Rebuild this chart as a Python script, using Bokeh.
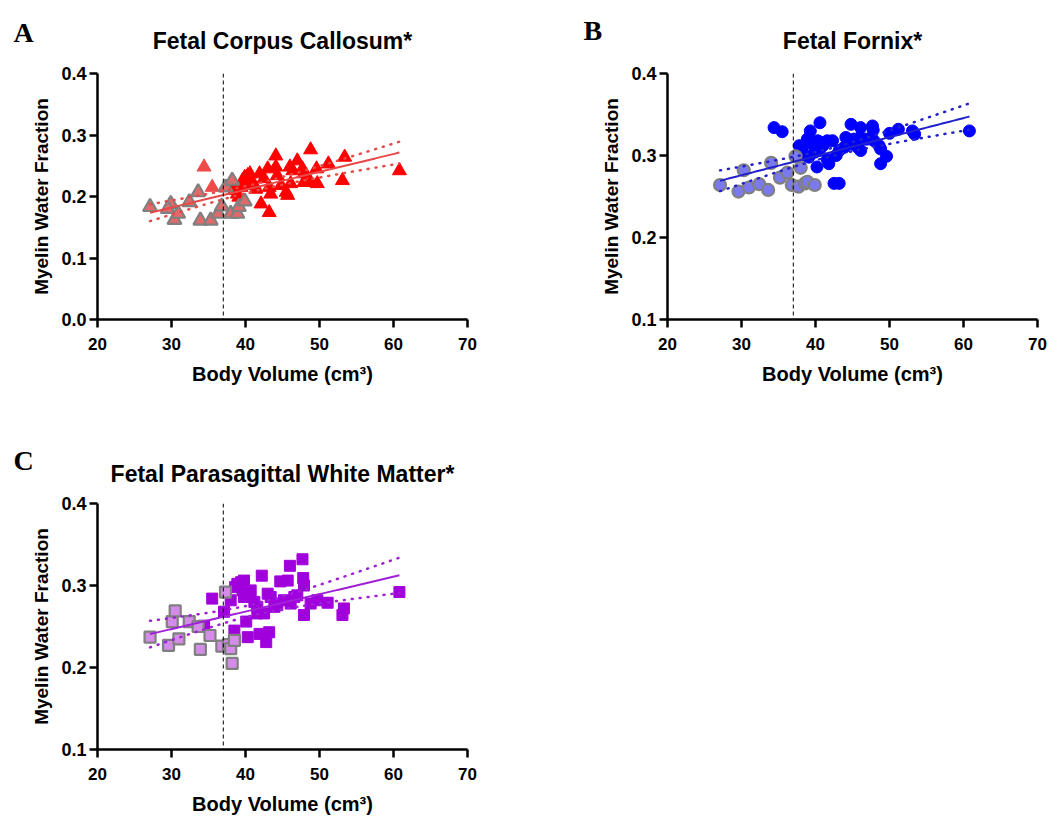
import numpy as np
from bokeh.plotting import figure
from bokeh.layouts import column, row
from bokeh.models import Range1d, FixedTicker, NumeralTickFormatter, Span, Label
from bokeh.embed import file_html
from bokeh.resources import INLINE

# ---- Fetal corpus callosum ----
cc_gray_x = [27.1, 29.9, 29.5, 30.4, 30.9, 32.4, 33.6, 33.9, 35.3, 36.3, 36.8, 37.3, 38.2, 38.0, 38.9, 39.1, 39.9]
cc_gray_y = [0.183, 0.188, 0.180, 0.162, 0.172, 0.191, 0.207, 0.161, 0.161, 0.172, 0.184, 0.215, 0.226, 0.172, 0.172, 0.183, 0.192]
cc_pale_x = [34.4, 35.5]
cc_pale_y = [0.248, 0.215]
cc_x = [37.9, 38.5, 38.9, 39.1, 39.4, 39.6, 39.9, 40.3, 40.6, 40.1, 40.7, 41.2, 41.4, 41.9, 42.1,
        42.5, 43.0, 43.2, 43.4, 43.2, 44.1, 44.1, 44.3, 44.8, 45.5, 45.7, 46.1, 46.0, 46.4, 47.0,
        47.7, 47.9, 47.9, 48.8, 48.8, 49.6, 49.7, 51.2, 53.1, 53.4, 60.8]
cc_y = [0.215, 0.210, 0.204, 0.199, 0.215, 0.226, 0.231, 0.234, 0.237, 0.218, 0.223, 0.218, 0.212, 0.237, 0.188,
        0.229, 0.245, 0.215, 0.204, 0.174, 0.266, 0.248, 0.234, 0.218, 0.207, 0.202, 0.221, 0.248, 0.242, 0.258,
        0.245, 0.237, 0.223, 0.276, 0.223, 0.245, 0.221, 0.253, 0.226, 0.264, 0.242]

# ---- Fetal fornix ----
fx_gray_x = [27.1, 29.6, 30.3, 31.0, 32.4, 33.6, 34.0, 35.2, 36.2, 36.8, 37.3, 38.0, 37.7, 38.6, 38.9, 39.9]
fx_gray_y = [0.264, 0.256, 0.282, 0.261, 0.265, 0.258, 0.291, 0.273, 0.279, 0.264, 0.299, 0.285, 0.262, 0.266, 0.268, 0.264]
fx_x = [34.4, 35.5, 40.6, 39.3, 38.9, 38.6, 37.8, 39.4, 39.8, 40.3, 39.9, 40.5, 41.0, 41.2, 41.6, 42.3,
        38.7, 39.1, 40.2, 41.8, 41.6, 42.8, 43.2, 43.9, 44.1, 44.8, 45.0, 45.2, 45.7, 46.1, 46.0, 46.1,
        46.6, 47.0, 47.7, 47.8, 47.9, 48.6, 48.8, 49.6, 48.8, 42.5, 43.2, 50.0, 51.2, 53.1, 53.4, 60.8]
fx_y = [0.334, 0.329, 0.340, 0.330, 0.320, 0.314, 0.312, 0.318, 0.312, 0.318, 0.304, 0.306, 0.312, 0.316, 0.318, 0.318,
        0.300, 0.298, 0.286, 0.290, 0.295, 0.300, 0.306, 0.310, 0.322, 0.338, 0.314, 0.320, 0.310, 0.306, 0.322, 0.334,
        0.320, 0.320, 0.336, 0.331, 0.318, 0.312, 0.308, 0.299, 0.290, 0.266, 0.266, 0.327, 0.332, 0.330, 0.326, 0.330]

# ---- Fetal parasagittal white matter ----
wm_gray_x = [27.1, 29.6, 30.1, 30.5, 31.0, 32.4, 33.6, 33.9, 35.2, 36.8, 37.3, 37.7, 38.0, 38.2, 38.5]
wm_gray_y = [0.237, 0.227, 0.256, 0.269, 0.235, 0.256, 0.250, 0.222, 0.239, 0.226, 0.292, 0.228, 0.223, 0.205, 0.233]
wm_x = [47.7, 46.0, 42.2, 44.7, 45.7, 47.8, 47.9, 39.4, 39.8, 38.9, 38.6, 39.6, 40.3, 40.7, 39.8,
        35.5, 38.0, 41.2, 41.6, 41.6, 42.5, 43.0, 43.4, 43.9, 44.3, 45.2, 46.1, 46.6, 47.0, 47.9,
        48.8, 49.7, 51.1, 53.3, 53.1, 60.8, 40.1, 38.5, 40.3, 41.9, 43.2, 42.8, 34.4, 37.1]
wm_y = [0.332, 0.324, 0.312, 0.305, 0.306, 0.309, 0.300, 0.304, 0.306, 0.302, 0.298, 0.294, 0.290, 0.294, 0.286,
        0.284, 0.282, 0.280, 0.274, 0.266, 0.266, 0.290, 0.286, 0.274, 0.276, 0.282, 0.278, 0.286, 0.288, 0.264,
        0.278, 0.282, 0.279, 0.272, 0.264, 0.292, 0.256, 0.245, 0.237, 0.241, 0.243, 0.231, 0.251, 0.268]

x_ticks = [20, 30, 40, 50, 60, 70]
cutoff_volume = 37
T95 = 2.0

SANS = "Liberation Sans"
SERIF = "Liberation Serif"
GRAY = "#808080"
HEADER_H = 62


def fit_band(xs, ys):
    x = np.asarray(xs, dtype=float)
    y = np.asarray(ys, dtype=float)
    slope, icpt = np.polyfit(x, y, 1)
    n = len(x)
    resid = y - (slope * x + icpt)
    s = np.sqrt(np.sum(resid ** 2) / (n - 2))
    xg = np.linspace(x.min(), x.max(), 120)
    yg = slope * xg + icpt
    sxx = np.sum((x - x.mean()) ** 2)
    half = T95 * s * np.sqrt(1.0 / n + (xg - x.mean()) ** 2 / sxx)
    return xg, yg, yg - half, yg + half


def make_header(width, items):
    """A strip holding panel letters and headings; its ranges are in pixels from the top-left."""
    h = figure(width=width, height=HEADER_H, x_range=Range1d(0, width), y_range=Range1d(HEADER_H, 0),
               output_backend="svg", toolbar_location=None, title=None,
               x_axis_location=None, y_axis_location=None,
               min_border_left=0, min_border_right=0, min_border_top=0, min_border_bottom=0)
    h.frame_align = False
    h.grid.visible = False
    h.outline_line_color = None
    for text, x, y, align, font, size in items:
        h.add_layout(Label(x=x, y=y, text=text, text_align=align, text_baseline="alphabetic",
                           text_font=font, text_font_style="bold", text_font_size=size,
                           text_color="black"))
    return h


def make_panel(width, height, left, right, top, bottom, y0, y_ticks):
    p = figure(width=width, height=height, x_range=Range1d(20, 70), y_range=Range1d(y0, 0.4),
               output_backend="svg", toolbar_location=None, title=None,
               min_border_left=left, min_border_right=right,
               min_border_top=top, min_border_bottom=bottom)
    p.outline_line_color = None
    p.grid.visible = False

    p.xaxis.ticker = FixedTicker(ticks=x_ticks)
    p.yaxis.ticker = FixedTicker(ticks=y_ticks)
    p.yaxis.formatter = NumeralTickFormatter(format="0.0")
    for ax in (p.xaxis, p.yaxis):
        ax.axis_line_width = 2.5
        ax.axis_line_color = "black"
        ax.major_tick_line_width = 2.5
        ax.major_tick_out = 8
        ax.major_tick_in = 0
        ax.minor_tick_out = 0
        ax.minor_tick_in = 0
        ax.major_label_text_font = SANS
        ax.major_label_text_font_style = "bold"
        ax.major_label_text_font_size = "17px"
        ax.major_label_text_color = "black"
        ax.axis_label_text_font = SANS
        ax.axis_label_text_font_style = "bold"
        ax.axis_label_text_font_size = "19px"
        ax.axis_label_text_color = "black"
    p.yaxis.major_label_text_font_size = "18px"
    p.xaxis.axis_label_text_font_size = "20px"
    p.xaxis.axis_label = "Body Volume (cm³)"
    p.yaxis.axis_label = "Myelin Water Fraction"
    p.xaxis.major_label_standoff = 10
    p.yaxis.major_label_standoff = 3
    p.xaxis.axis_label_standoff = 10
    p.yaxis.axis_label_standoff = 6

    p.add_layout(Span(location=cutoff_volume, dimension="height", line_color="black",
                      line_width=1, line_dash="4 3"))
    return p


def draw_fit(p, xs, ys, color):
    xg, yg, lo, hi = fit_band(xs, ys)
    p.line(xg, yg, line_color=color, line_width=2)
    for band in (lo, hi):
        p.line(xg, band, line_color=color, line_width=2.5, line_dash="1 7", line_cap="round")


header_top = make_header(1050, [
    ("A", 13, 32, "left", SERIF, "28px"),
    ("Fetal Corpus Callosum*", 282, 40, "center", SANS, "23px"),
    ("B", 583, 30, "left", SERIF, "28px"),
    ("Fetal Fornix*", 852, 40, "center", SANS, "23px"),
])
header_bottom = make_header(1050, [
    ("C", 13, 30, "left", SERIF, "28px"),
    ("Fetal Parasagittal White Matter*", 282, 43, "center", SANS, "23px"),
])

# Panel A
pA = make_panel(560, 368, 97, 93, 11, 111, 0.0, [0.0, 0.1, 0.2, 0.3, 0.4])
pA.scatter(cc_x, cc_y, marker="triangle", size=14, fill_color="#ff0000", line_color="#ff0000", line_width=1)
pA.scatter(cc_pale_x, cc_pale_y, marker="triangle", size=14, fill_color="#ef4a4a", line_color="#ef4a4a", line_width=1)
pA.scatter(cc_gray_x, cc_gray_y, marker="triangle", size=14, fill_color="#e06a6a", line_color=GRAY, line_width=2.2)
draw_fit(pA, cc_gray_x + cc_pale_x + cc_x, cc_gray_y + cc_pale_y + cc_y, "#e84848")

# Panel B
pB = make_panel(490, 368, 107, 13, 11, 111, 0.1, [0.1, 0.2, 0.3, 0.4])
pB.scatter(fx_x, fx_y, marker="circle", size=12, fill_color="#0000ff", line_color="#0000ff", line_width=1)
pB.scatter(fx_gray_x, fx_gray_y, marker="circle", size=12, fill_color="#7a7aee", line_color=GRAY, line_width=2.2)
draw_fit(pB, fx_gray_x + fx_x, fx_gray_y + fx_y, "#2222cc")

# Panel C
pC = make_panel(560, 330, 97, 93, 11, 73, 0.1, [0.1, 0.2, 0.3, 0.4])
pC.scatter(wm_x, wm_y, marker="square", size=11, fill_color="#a000dc", line_color="#a000dc", line_width=1)
pC.scatter(wm_gray_x, wm_gray_y, marker="square", size=11, fill_color="#d48ce8", line_color=GRAY, line_width=2.2)
draw_fit(pC, wm_gray_x + wm_x, wm_gray_y + wm_y, "#a020d8")

layout = column(header_top, row(pA, pB), header_bottom, pC)
open("out.html", "w").write(file_html(layout, INLINE))
